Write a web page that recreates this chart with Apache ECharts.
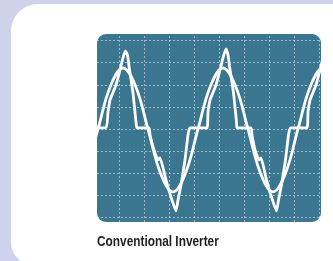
<!DOCTYPE html>
<html>
<head>
<meta charset="utf-8">
<script src="https://cdn.jsdelivr.net/npm/echarts@6/dist/echarts.min.js"></script>
<style>
  html, body { margin: 0; padding: 0; background: #cfd2ea; }
  #chart { width: 333px; height: 261px; }
</style>
</head>
<body>
<div id="chart"></div>
<script>
"use strict";

// units: one grid division on each axis
const gridX = [0, 1, 2, 3, 4, 5, 6, 7, 8];
const gridY = [-4, -3, -2, -1, 0, 1, 2, 3, 4];

// ideal sine wave
const sineWave = [
  [-1.34, -2.0], [-0.84, 0], [-0.34, 1.95], [0.16, 2.76], [0.66, 1.95], [1.16, 0],
  [1.66, -2.0], [2.16, -2.85], [2.66, -2.0], [3.16, 0], [3.66, 1.95], [4.16, 2.76],
  [4.66, 1.95], [5.16, 0], [5.66, -2.0], [6.16, -2.85], [6.66, -2.0], [7.16, 0],
  [7.66, 1.95], [8.16, 2.76], [8.66, 1.95]
];

// distorted inverter output
const distortedWave = [
  [-1.24, 0.05], [-0.52, 0.05], [-0.44, 0.77], [-0.36, 1.31], [-0.28, 1.54], [-0.12, 1.99],
  [0.04, 2.67], [0.16, 3.22], [0.26, 3.53], [0.34, 3.35], [0.40, 2.85], [0.56, 1.63],
  [0.68, 0.32], [0.72, 0.05], [1.20, 0.05], [1.24, -0.27], [1.40, -0.95], [1.56, -1.40],
  [1.64, -1.31], [1.88, -2.31], [2.12, -3.22], [2.28, -3.71], [2.36, -3.22], [2.48, -2.54],
  [2.64, -1.40], [2.76, -0.27], [2.84, 0.05], [3.52, 0.05], [3.56, 0.77], [3.64, 1.31],
  [3.72, 1.54], [3.88, 1.99], [4.04, 2.67], [4.16, 3.22], [4.28, 3.62], [4.36, 3.35],
  [4.42, 2.85], [4.58, 1.63], [4.70, 0.32], [4.72, 0.05], [5.28, 0.05], [5.32, -0.27],
  [5.44, -0.95], [5.60, -1.40], [5.68, -1.31], [5.90, -2.31], [6.14, -3.22], [6.30, -3.71],
  [6.38, -3.22], [6.50, -2.54], [6.66, -1.40], [6.78, -0.27], [6.86, 0.05], [7.52, 0.05],
  [7.56, 0.77], [7.64, 1.31], [7.72, 1.54], [7.88, 1.99], [8.04, 2.67], [8.16, 3.22]
];

const titleText = "Conventional Inverter";

const chart = echarts.init(document.getElementById("chart"), null, { renderer: "canvas" });

const dotted = { color: "rgba(225,232,238,0.6)", width: 1, type: [2, 2] };

chart.setOption({
  animation: false,
  backgroundColor: "#cfd2ea",
  graphic: [
    { type: "rect", z: -10, shape: { x: 11, y: 4, width: 340, height: 262, r: [27, 0, 0, 24] }, style: { fill: "#ffffff" } },
    { type: "rect", z: -5, shape: { x: 97, y: 34, width: 224, height: 188, r: 9 }, style: { fill: "#3b7690" } },
    {
      type: "text", x: 97, y: 242, scaleX: 0.79,
      style: {
        text: titleText, x: 0, y: 0, align: "left", verticalAlign: "middle",
        fill: "#231f20", font: 'bold 15px "Liberation Sans", Arial, sans-serif'
      }
    }
  ],
  grid: { left: 97, top: 34, width: 224, height: 188 },
  xAxis: { type: "value", min: -0.88, max: 8.08, show: false },
  yAxis: { type: "value", min: -4.21, max: 4.30, show: false },
  series: [
    {
      name: "grid", type: "line", data: [], z: 1, silent: true,
      markLine: {
        silent: true, symbol: "none", label: { show: false }, lineStyle: dotted,
        data: gridX.map((v) => ({ xAxis: v })).concat(gridY.map((v) => ({ yAxis: v })))
      }
    },
    {
      name: "sine", type: "line", data: sineWave, smooth: 0.4, showSymbol: false, z: 3,
      lineStyle: { color: "#ffffff", width: 2.8 }
    },
    {
      name: "distorted", type: "line", data: distortedWave, smooth: 0.15, showSymbol: false, z: 3,
      lineStyle: { color: "#ffffff", width: 2.8, join: "round" }
    }
  ]
});
</script>
</body>
</html>
